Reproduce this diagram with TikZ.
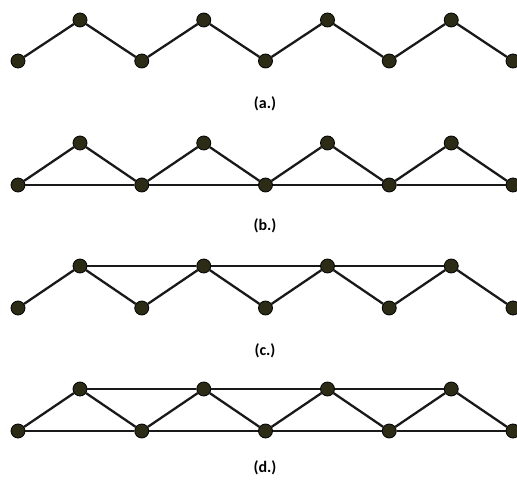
\documentclass[tikz,border=0pt]{standalone}
\usepackage{fontspec}
\setmainfont{Carlito}
\usepackage{xcolor}
\usepackage{tikz}
\definecolor{oliva}{HTML}{2B2B16}
\tikzset{
  vertice/.style={circle, draw=black, fill=oliva, line width=0.8pt, minimum size=14pt, inner sep=0pt},
  aresta/.style={line width=2.3pt, black!90},
  rotulo/.style={font=\fontsize{16}{18}\selectfont\bfseries},
}

\begin{document}
\begin{tikzpicture}[x=1pt, y=-1pt]
  \useasboundingbox (0,0) rectangle (517,481);
  % (a.) zigzag
  \foreach \i in {1,...,5} \node[vertice] (a\i) at ({18+123.75*(\i-1)},61) {};
  \foreach \i in {1,...,4} \node[vertice] (at\i) at ({80+123.75*(\i-1)},20) {};
  \foreach \i [evaluate=\i as \j using int(\i+1)] in {1,...,4} \draw[aresta] (a\i) -- (at\i) -- (a\j);
  \node[rotulo] (la) at (265,104) {(a.)};
  % (b.) zigzag + base
  \foreach \i in {1,...,5} \node[vertice] (b\i) at ({18+123.75*(\i-1)},185) {};
  \foreach \i in {1,...,4} \node[vertice] (bt\i) at ({80+123.75*(\i-1)},143) {};
  \foreach \i [evaluate=\i as \j using int(\i+1)] in {1,...,4} {
    \draw[aresta] (b\i) -- (bt\i) -- (b\j);
    \draw[aresta] (b\i) -- (b\j);
  }
  \node[rotulo] (lb) at (265,226) {(b.)};
  % (c.) zigzag + topo
  \foreach \i in {1,...,5} \node[vertice] (c\i) at ({18+123.75*(\i-1)},308) {};
  \foreach \i in {1,...,4} \node[vertice] (ct\i) at ({80+123.75*(\i-1)},266) {};
  \foreach \i [evaluate=\i as \j using int(\i+1)] in {1,...,4} \draw[aresta] (c\i) -- (ct\i) -- (c\j);
  \foreach \i [evaluate=\i as \j using int(\i+1)] in {1,...,3} \draw[aresta] (ct\i) -- (ct\j);
  \node[rotulo] (lc) at (265,351) {(c.)};
  % (d.) zigzag + base + topo
  \foreach \i in {1,...,5} \node[vertice] (d\i) at ({18+123.75*(\i-1)},431) {};
  \foreach \i in {1,...,4} \node[vertice] (dt\i) at ({80+123.75*(\i-1)},389) {};
  \foreach \i [evaluate=\i as \j using int(\i+1)] in {1,...,4} {
    \draw[aresta] (d\i) -- (dt\i) -- (d\j);
    \draw[aresta] (d\i) -- (d\j);
  }
  \foreach \i [evaluate=\i as \j using int(\i+1)] in {1,...,3} \draw[aresta] (dt\i) -- (dt\j);
  \node[rotulo] (ld) at (265,468) {(d.)};
\end{tikzpicture}
\end{document}
